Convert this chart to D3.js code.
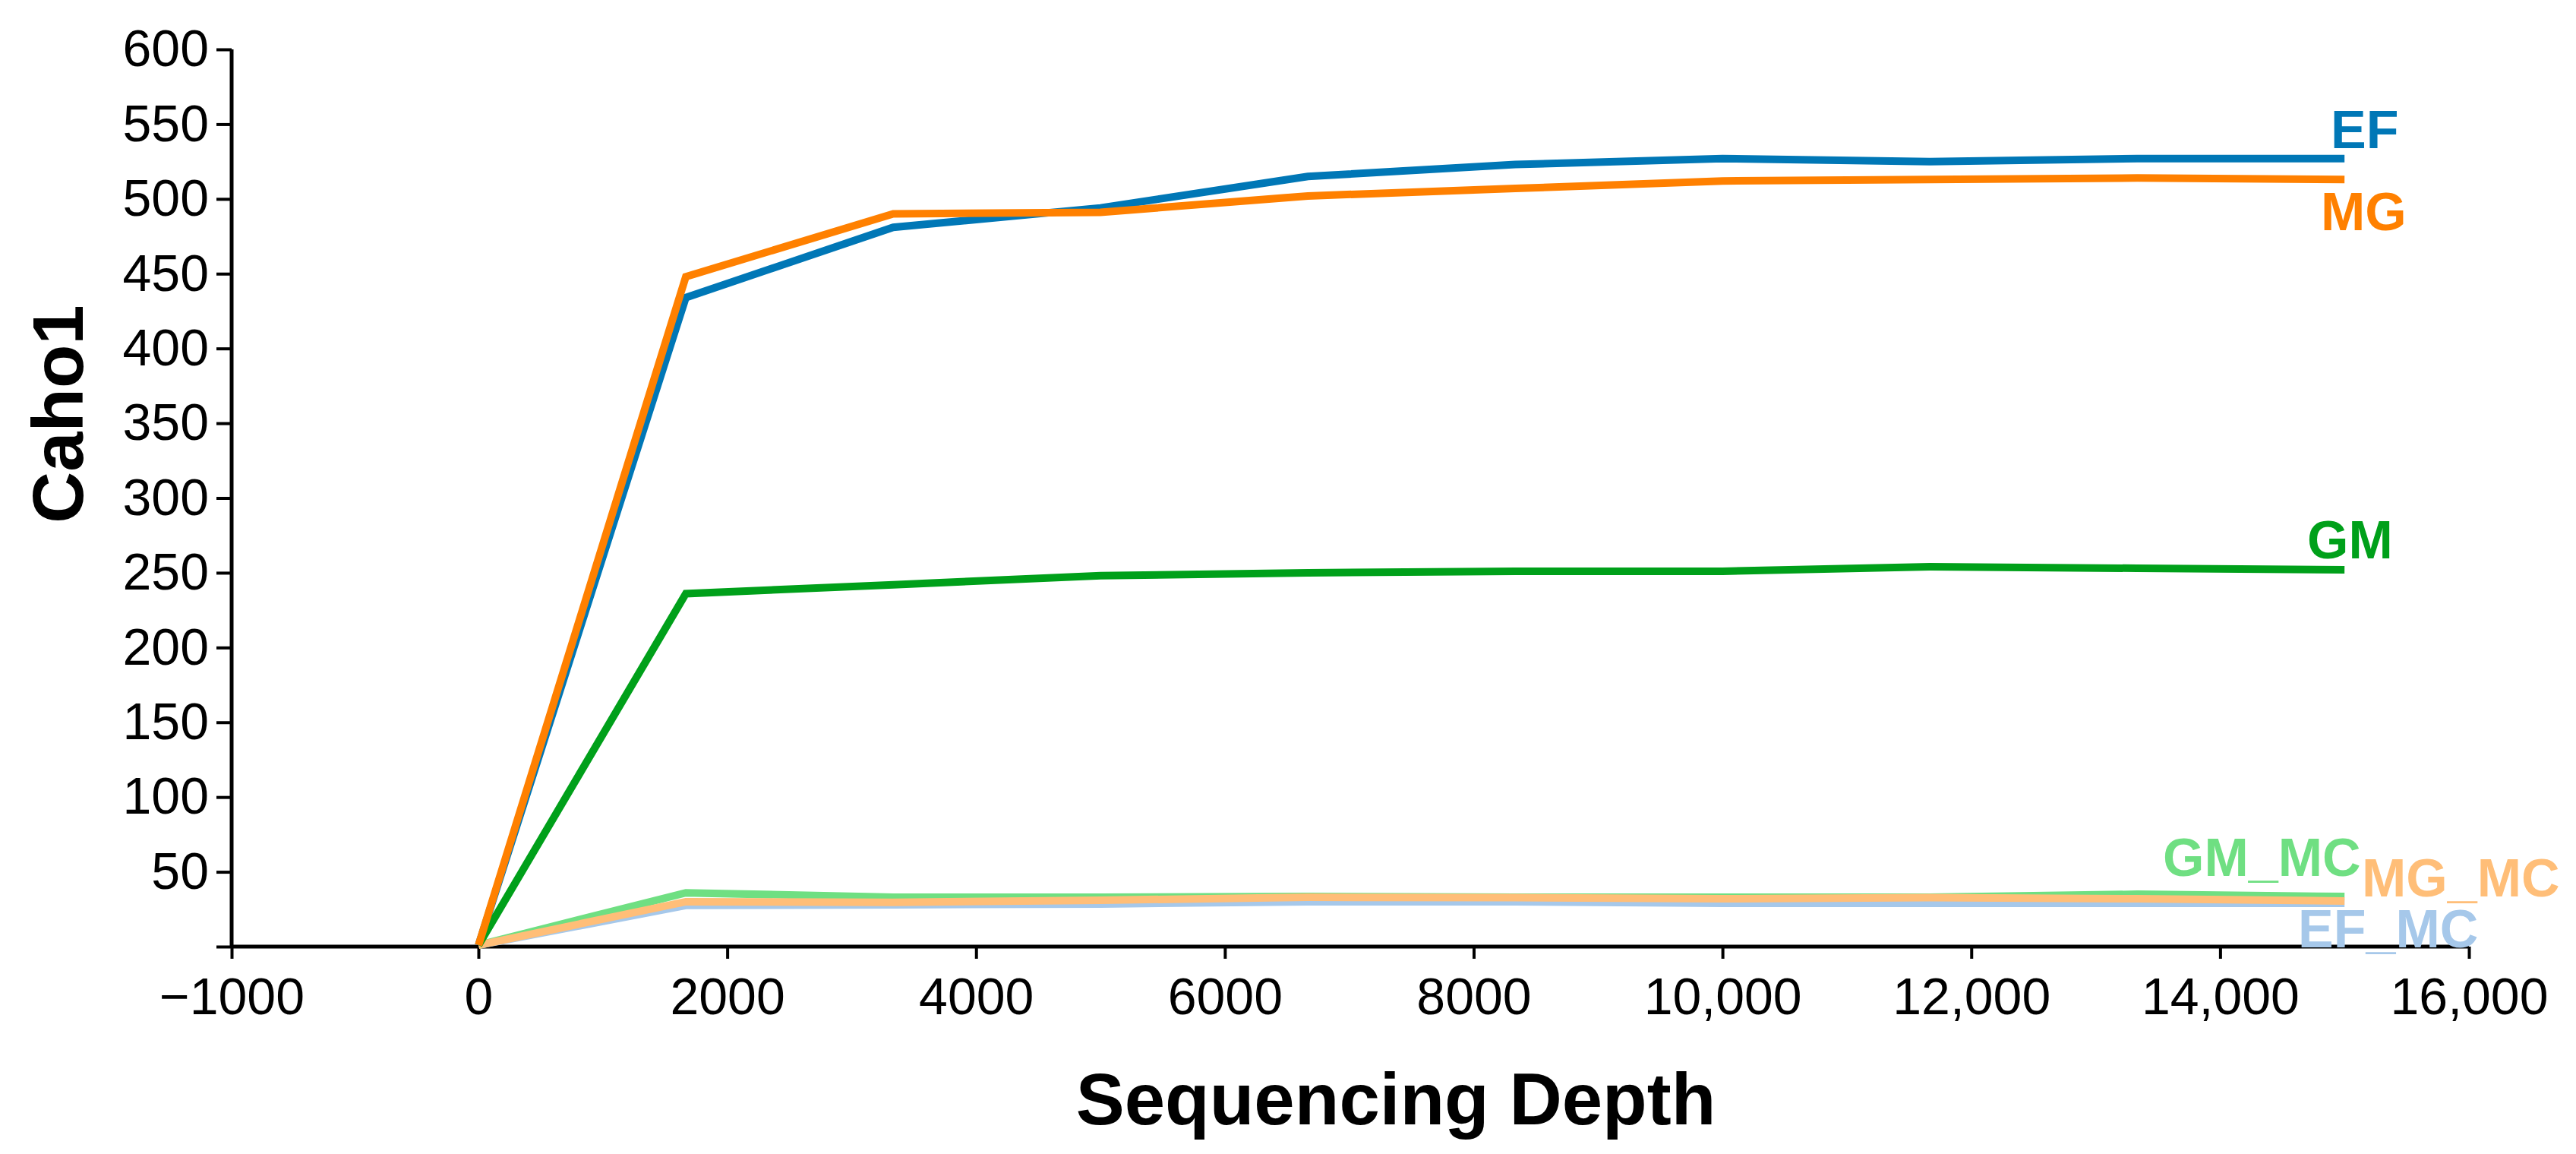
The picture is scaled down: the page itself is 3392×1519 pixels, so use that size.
<!DOCTYPE html>
<html>
<head>
<meta charset="utf-8">
<script src="https://cdn.jsdelivr.net/npm/d3@7"></script>
<style>
  body { margin: 0; background: #fff; }
  svg { display: block; font-family: 'Liberation Sans', Arial, sans-serif; }
</style>
</head>
<body>
<script>
// sequencing depth steps
const depth = [1, 1667, 3334, 5000, 6667, 8334, 10000, 11667, 13334, 15000];

// Chao1 values
const EF = [1, 434, 481, 494, 515, 523, 527, 525, 527, 527];
const MG = [1, 448, 490, 491, 502, 507, 512, 513, 514, 513];
const GM = [1, 236, 242, 248, 250, 251, 251, 254, 253, 252];
const EF_MC = [1, 27.5, 28, 28.5, 30, 30, 29, 29, 29, 29];
const GM_MC = [1, 36, 33, 33, 33.5, 33, 33, 33, 35, 33.5];
const MG_MC = [1, 30, 29.6, 31, 33, 32.8, 32, 32.8, 32, 30.5];

const seriesNames = ['EF_MC', 'GM_MC', 'MG_MC', 'EF', 'GM', 'MG'];
const seriesValues = [EF_MC, GM_MC, MG_MC, EF, GM, MG];
const seriesColors = ['#a6c8ea', '#6fdf82', '#ffbe78', '#0077b6', '#00a01a', '#ff8000'];

const xTicks = [-1000, 0, 2000, 4000, 6000, 8000, 10000, 12000, 14000, 16000];
const xTickLabels = ['\u22121000', '0', '2000', '4000', '6000', '8000', '10,000', '12,000', '14,000', '16,000'];
const yTicks = [0, 50, 100, 150, 200, 250, 300, 350, 400, 450, 500, 550, 600];

// label anchor spots (left edge, baseline)
const labelPos = {
  EF: [3069, 195], MG: [3056, 303], GM: [3038, 735],
  GM_MC: [2848, 1153], MG_MC: [3110, 1180], EF_MC: [3026, 1247]
};

const width = 3392, height = 1519;

const svg = d3.select('body').append('svg')
  .attr('width', width)
  .attr('height', height);

// x axis is stretched on the negative side, like the original
const x = d3.scaleLinear().domain([-1000, 0, 16000]).range([305, 630, 3251]);
const y = d3.scaleLinear().domain([0, 600]).range([1246, 65]);

// axes
const yAxis = svg.append('g')
  .attr('transform', `translate(${x(-1000)},0)`)
  .call(d3.axisLeft(y).tickValues(yTicks).tickSize(20).tickPadding(10)
    .tickFormat(d => d === 0 ? '' : d));

const xAxis = svg.append('g')
  .attr('transform', `translate(0,${y(0)})`)
  .call(d3.axisBottom(x).tickValues(xTicks).tickSize(16).tickPadding(25)
    .tickFormat((d, i) => xTickLabels[i]));

[xAxis, yAxis].forEach(g => {
  g.select('.domain').attr('stroke', '#000').attr('stroke-width', 5);
  g.selectAll('.tick line').attr('stroke', '#000').attr('stroke-width', 4);
  g.selectAll('.tick text').attr('fill', '#000').attr('font-size', 68)
    .attr('font-family', "'Liberation Sans', Arial, sans-serif");
});
// remove the outer tick caps d3 adds to the domain path
xAxis.select('.domain').attr('d', `M${x(-1000)},0H${x(16000)}`);
yAxis.select('.domain').attr('d', `M0,${y(600)}V${y(0)}`);

// lines
const line = d3.line()
  .x((d, i) => x(depth[i]))
  .y(d => y(d));

seriesValues.forEach((vals, k) => {
  svg.append('path')
    .datum(vals)
    .attr('d', line)
    .attr('fill', 'none')
    .attr('stroke', seriesColors[k])
    .attr('stroke-width', 10)
    .attr('stroke-linejoin', 'miter');
});

// series labels
seriesNames.forEach((name, k) => {
  svg.append('text')
    .attr('x', labelPos[name][0])
    .attr('y', labelPos[name][1])
    .attr('fill', seriesColors[k])
    .attr('font-size', 70)
    .attr('font-weight', 'bold')
    .text(name);
});

// axis titles
svg.append('text')
  .attr('transform', 'translate(109,545) rotate(-90)')
  .attr('text-anchor', 'middle')
  .attr('font-size', 94)
  .attr('font-weight', 'bold')
  .text('Caho1');

svg.append('text')
  .attr('x', 1838)
  .attr('y', 1480)
  .attr('text-anchor', 'middle')
  .attr('font-size', 96)
  .attr('font-weight', 'bold')
  .text('Sequencing Depth');
</script>
</body>
</html>
